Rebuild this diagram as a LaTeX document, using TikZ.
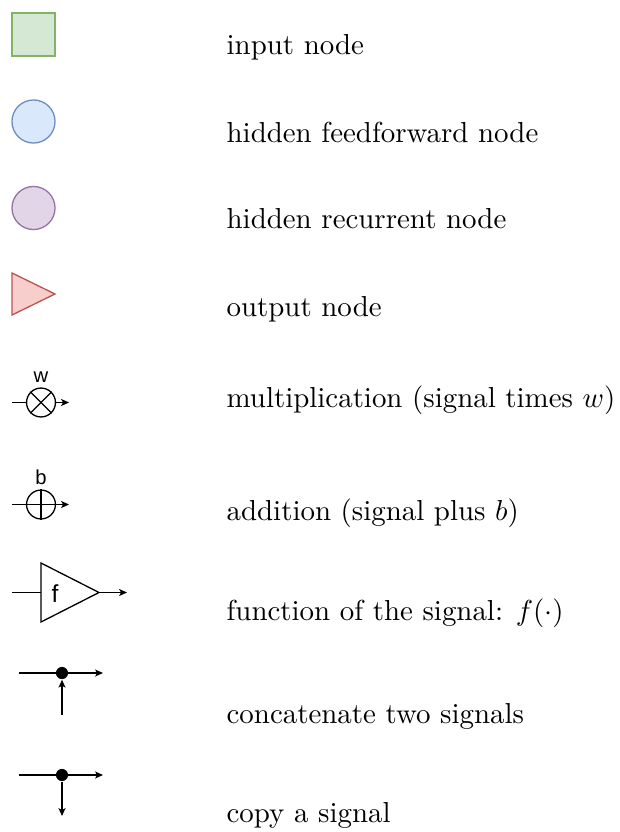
\documentclass[tikz,border=0pt]{standalone}
\usepackage{fontspec}
\newfontfamily\signalfont{Liberation Sans}
\usetikzlibrary{arrows.meta}

\definecolor{inputfill}{HTML}{D5E8D4}
\definecolor{inputline}{HTML}{82B366}
\definecolor{ffwdfill}{HTML}{DAE8FC}
\definecolor{ffwdline}{HTML}{6C8EBF}
\definecolor{recfill}{HTML}{E1D5E7}
\definecolor{recline}{HTML}{9673A6}
\definecolor{outfill}{HTML}{F8CECC}
\definecolor{outline}{HTML}{B85450}

\begin{document}
\begin{tikzpicture}[x=0.346pt, y=-0.346pt, line width=0.45pt,
    >={Stealth[length=2.7pt, width=2.4pt, inset=0.6pt]},
    desc/.style={anchor=base west, inner sep=0pt},
    opnode/.style={circle, draw, inner sep=0pt, minimum size=10pt},
    unitnode/.style={circle, inner sep=0pt, minimum size=14.9pt},
    joint/.style={circle, fill, inner sep=0pt, minimum size=4.2pt},
    siglabel/.style={inner sep=0pt, font=\signalfont\fontsize{7}{8}\selectfont}]
    \useasboundingbox (0,0) rectangle (620,832);

    % node types
    \draw[fill=inputfill, draw=inputline] (12,13) rectangle (55,56);
    \node[desc] (tin) at (226,55) {input node};

    \node[unitnode, fill=ffwdfill, draw=ffwdline] (ffwd) at (33.5,121.5) {};
    \node[desc] (tffwd) at (226,143) {hidden feedforward node};

    \node[unitnode, fill=recfill, draw=recline] (rec) at (33.5,208) {};
    \node[desc] (trec) at (226,229) {hidden recurrent node};

    \draw[fill=outfill, draw=outline] (12,273) -- (55,294) -- (12,315) -- cycle;
    \node[desc] (tout) at (226,316) {output node};

    % multiplication
    \coordinate (min) at (12,402.5);
    \coordinate (mout) at (69,402.5);
    \node[opnode] (mul) at (41,402.5) {};
    \draw (mul.north west) -- (mul.south east);
    \draw (mul.north east) -- (mul.south west);
    \draw (min) -- (mul.west);
    \draw[->] (mul.east) -- (mout);
    \node[siglabel] (w) at (41,377) {w};
    \node[desc] (tmul) at (226,407) {multiplication (signal times $w$)};

    % addition
    \coordinate (ain) at (12,504.5);
    \coordinate (aout) at (69,504.5);
    \node[opnode] (add) at (41,504.5) {};
    \draw (add.north) -- (add.south);
    \draw (ain) -- (add.west) -- (add.east);
    \draw[->] (add.east) -- (aout);
    \node[siglabel, anchor=base] (b) at (41,484) {b};
    \node[desc] (tadd) at (226,520) {addition (signal plus $b$)};

    % function block
    \coordinate (fin) at (12,592.5);
    \coordinate (fa) at (41,563);
    \coordinate (fb) at (41,622);
    \coordinate (ftip) at (99,592.5);
    \coordinate (fout) at (127,592.5);
    \draw (fa) -- (ftip) -- (fb) -- cycle;
    \draw (fin) -- (41,592.5);
    \draw[->] (ftip) -- (fout);
    \node[inner sep=0pt, font=\signalfont\fontsize{8.5}{10}\selectfont] (f) at (55,594) {f};
    \node[desc] (tfun) at (226,620) {function of the signal: $f(\cdot)$};

    % concatenation
    \coordinate (cin) at (19,673);
    \coordinate (cout) at (103,673);
    \coordinate (cbot) at (62,715);
    \node[joint] (cat) at (62,673) {};
    \draw[->] (cin) -- (cout);
    \draw[->] (cbot) -- (cat.south);
    \node[desc] (tcat) at (226,723) {concatenate two signals};

    % copy
    \coordinate (pin) at (19,775);
    \coordinate (pout) at (103,775);
    \coordinate (pbot) at (62,816);
    \node[joint] (cpy) at (62,775) {};
    \draw[->] (pin) -- (pout);
    \draw[->] (cpy) -- (pbot);
    \node[desc] (tcpy) at (226,822) {copy a signal};
\end{tikzpicture}
\end{document}
